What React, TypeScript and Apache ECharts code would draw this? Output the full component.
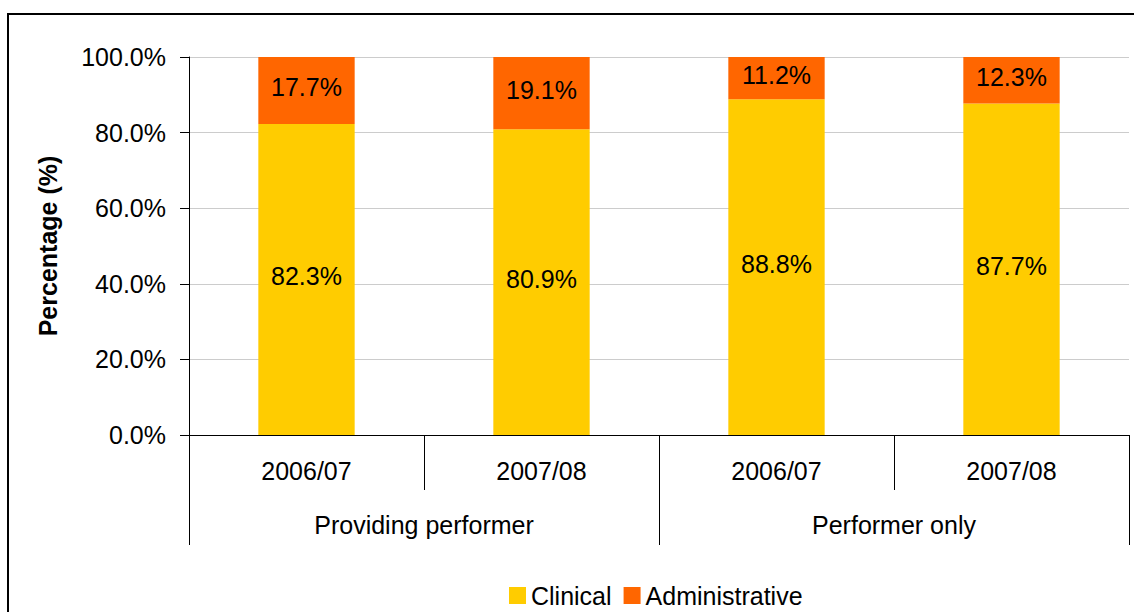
import React, { useEffect, useRef } from "react";
import * as echarts from "echarts";

const years = ["2006/07", "2007/08", "2006/07", "2007/08"];
const groups = ["Providing performer", "Performer only"];
const clinical = [82.3, 80.9, 88.8, 87.7];
const administrative = [17.7, 19.1, 11.2, 12.3];
const yTicks = [0, 20, 40, 60, 80, 100];

const FONT = "Liberation Sans, Arial, sans-serif";
const FS = 25;

export default function App() {
  const ref = useRef<HTMLDivElement>(null);
  useEffect(() => {
    const chart = echarts.init(ref.current!, null, { renderer: "svg" });
    const lbl = {
      show: true,
      position: "inside",
      fontSize: FS,
      color: "#000",
      fontFamily: FONT,
      offset: [0, -3],
      formatter: (p: any) => p.value.toFixed(1) + "%",
    };
    chart.setOption({
      animation: false,
      textStyle: { fontFamily: FONT },
      grid: { left: 189, right: 5, top: 57, bottom: 177, containLabel: false },
      legend: {
        left: 504,
        top: 578,
        itemWidth: 17,
        itemHeight: 17,
        itemGap: 12,
        icon: "rect",
        textStyle: { fontSize: FS, color: "#000", fontFamily: FONT },
        data: ["Clinical", "Administrative"],
      },
      xAxis: [
        {
          type: "category",
          data: years,
          position: "bottom",
          axisLine: { show: true, lineStyle: { color: "#000", width: 1 } },
          axisTick: { show: true, length: 55, interval: 0, lineStyle: { color: "#000" } },
          axisLabel: { margin: 23, fontSize: FS, color: "#000", fontFamily: FONT },
        },
        {
          type: "category",
          data: groups,
          position: "bottom",
          axisLine: { show: false },
          axisTick: { show: true, length: 110, interval: 0, lineStyle: { color: "#000" } },
          axisLabel: { margin: 77, fontSize: FS, color: "#000", fontFamily: FONT },
        },
      ],
      yAxis: {
        type: "value",
        min: 0,
        max: 100,
        interval: 20,
        name: "Percentage (%)",
        nameLocation: "middle",
        nameGap: 129,
        nameTextStyle: { fontSize: FS, fontWeight: "bold", color: "#000", fontFamily: FONT },
        axisLine: { show: true, lineStyle: { color: "#000" } },
        axisTick: { show: true, length: 9, lineStyle: { color: "#000" } },
        axisLabel: {
          margin: 23,
          fontSize: FS,
          color: "#000",
          fontFamily: FONT,
          formatter: (v: number) => (yTicks.includes(v) ? v.toFixed(1) + "%" : ""),
        },
        splitLine: { show: true, lineStyle: { color: "#cccccc" } },
      },
      series: [
        {
          name: "Clinical",
          type: "bar",
          stack: "total",
          barWidth: "41%",
          data: clinical,
          itemStyle: { color: "#FFCC00" },
          label: lbl,
        },
        {
          name: "Administrative",
          type: "bar",
          stack: "total",
          barWidth: "41%",
          data: administrative,
          itemStyle: { color: "#FF6600" },
          label: lbl,
        },
      ],
      graphic: [
        {
          type: "rect",
          shape: { x: 8, y: 14, width: 1140, height: 620 },
          style: { fill: "none", stroke: "#000", lineWidth: 2 },
          silent: true,
        },
      ],
    });
    return () => chart.dispose();
  }, []);
  return (
    <div
      ref={ref}
      style={{ position: "fixed", left: 0, top: 0, width: 1134, height: 612, background: "#fff" }}
    />
  );
}
